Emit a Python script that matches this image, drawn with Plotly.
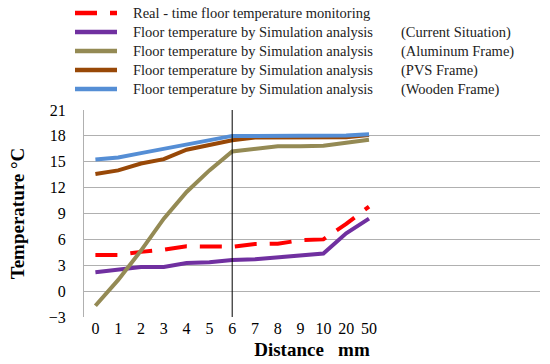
import plotly.graph_objects as go

categories = ["0", "1", "2", "3", "4", "5", "6", "7", "8", "9", "10", "20", "50"]
real_time = [4.2, 4.2, 4.55, 4.8, 5.2, 5.2, 5.15, 5.45, 5.5, 5.9, 6.0, 7.8, 9.8]
current = [2.2, 2.5, 2.8, 2.8, 3.25, 3.35, 3.6, 3.7, 3.95, 4.2, 4.35, 6.7, 8.4]
aluminum = [-1.7, 1.3, 4.7, 8.4, 11.5, 14.0, 16.2, 16.5, 16.8, 16.8, 16.85, 17.2, 17.55]
pvs = [13.57, 14.0, 14.8, 15.3, 16.4, 17.0, 17.5, 17.8, 17.8, 17.8, 17.8, 17.85, 18.1]
wooden = [15.27, 15.5, 16.0, 16.5, 17.0, 17.6, 18.0, 18.0, 18.0, 18.0, 18.0, 18.05, 18.2]
y_ticks = [-3, 0, 3, 6, 9, 12, 15, 18, 21]
marker_category = 6

series_names = [
    "Real - time floor temperature monitoring",
    "Floor temperature by Simulation analysis",
    "Floor temperature by Simulation analysis",
    "Floor temperature by Simulation analysis",
    "Floor temperature by Simulation analysis",
]
series_suffixes = ["", "(Current Situation)", "(Aluminum Frame)", "(PVS Frame)", "(Wooden Frame)"]
series_values = [real_time, current, aluminum, pvs, wooden]
series_colors = ["#ff0000", "#7030a0", "#948a54", "#984807", "#558ed5"]
series_dashes = ["22px,13px", "solid", "solid", "solid", "solid"]

FONT = "Liberation Serif, Times New Roman, serif"
W, H = 550, 364
L, R, T, B = 84, 10, 110, 47
PW, PH = W - L - R, H - T - B
xs = list(range(len(categories)))


def px_x(p):
    return (p - L) / PW


def px_y(p):
    return 1 - (p - T) / PH


fig = go.Figure()
for name, vals, color, dash in zip(series_names, series_values, series_colors, series_dashes):
    fig.add_trace(go.Scatter(
        x=xs, y=vals, mode="lines", name=name, showlegend=False,
        line=dict(color=color, width=4, dash=dash),
    ))

# vertical marker line
fig.add_shape(type="line", x0=marker_category, x1=marker_category, y0=-3, y1=21,
              xref="x", yref="y", line=dict(color="black", width=1))

# manual legend
for i, (name, suffix, color, dash) in enumerate(zip(series_names, series_suffixes, series_colors, series_dashes)):
    yc = 13 + 19 * i
    fig.add_shape(type="line", xref="paper", yref="paper",
                  x0=px_x(75), x1=px_x(117), y0=px_y(yc), y1=px_y(yc),
                  line=dict(color=color, width=4.5, dash=dash))
    fig.add_annotation(text=name, xref="paper", yref="paper", x=px_x(131), y=px_y(yc),
                       xanchor="left", yanchor="middle", showarrow=False,
                       font=dict(family=FONT, size=14.5, color="#222"))
    if suffix:
        fig.add_annotation(text=suffix, xref="paper", yref="paper", x=px_x(399), y=px_y(yc),
                           xanchor="left", yanchor="middle", showarrow=False,
                           font=dict(family=FONT, size=14.5, color="#222"))

fig.update_layout(
    width=W, height=H,
    margin=dict(l=L, r=R, t=T, b=B),
    paper_bgcolor="white", plot_bgcolor="white",
    font=dict(family=FONT, color="black"),
    showlegend=False,
    xaxis=dict(
        tickmode="array", tickvals=xs, ticktext=categories, tickangle=0,
        range=[-0.5, 19.5], showgrid=False, zeroline=False, automargin=False,
        tickfont=dict(family=FONT, size=16, color="black"),
        showline=False, ticks="",
        title=dict(text="<b>Distance\u00a0\u00a0\u00a0mm</b>", font=dict(family=FONT, size=19, color="black"), standoff=6),
    ),
    yaxis=dict(
        range=[-3, 21], tickmode="array", tickvals=y_ticks, automargin=False,
        showgrid=True, gridcolor="#b0b0b0", gridwidth=1, zeroline=False,
        showline=True, linecolor="#b0b0b0", linewidth=1,
        tickfont=dict(family=FONT, size=16, color="black"), ticks="outside", ticklen=14, tickcolor="rgba(0,0,0,0)",
        title=dict(text="<b>Temperature °C</b>", font=dict(family=FONT, size=19, color="black"), standoff=19),
    ),
)

fig.write_html("out.html", config={"displayModeBar": False},
               post_script="document.body.style.margin='0';document.body.style.overflow='hidden';")
